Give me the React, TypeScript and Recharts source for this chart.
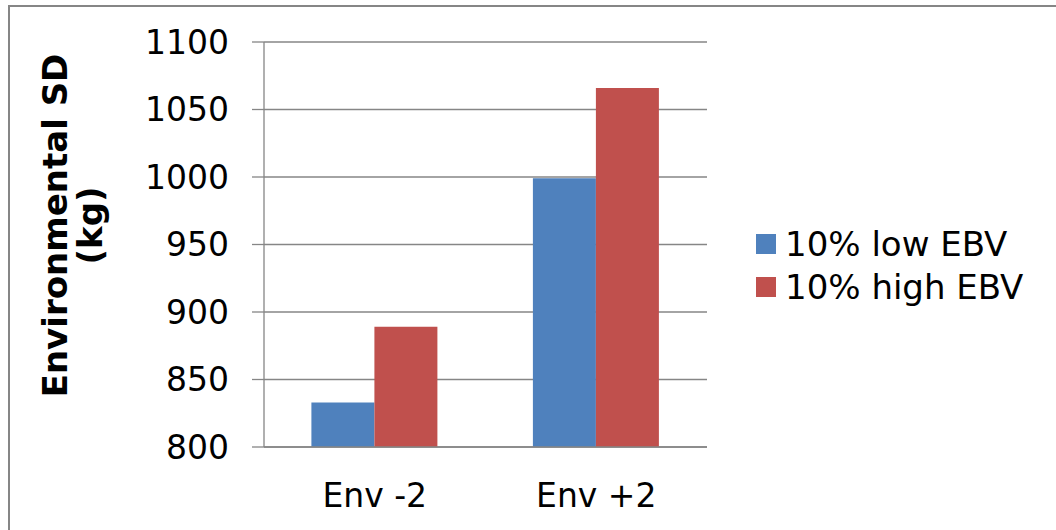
import { BarChart, Bar, XAxis, YAxis, CartesianGrid, Legend } from 'recharts';

// ── Data ──────────────────────────────────────────────────────────────────────

const categories = ['Env -2', 'Env +2'];
const lowEbv = [833, 999];
const highEbv = [889, 1066];
const seriesNames = ['10% low EBV', '10% high EBV'];
const seriesColors = ['#4F81BD', '#C0504D'];
const yTicks = [800, 850, 900, 950, 1000, 1050, 1100];
const edgeTicks = [0, 1, 2];
const yLabelLines = ['Environmental SD', '(kg)'];

const data = categories.map((cat, i) => ({ cat, low: lowEbv[i], high: highEbv[i] }));

const AXIS = '#868686';
const FONT = '"DejaVu Sans", Verdana, sans-serif';

// ── Pieces ────────────────────────────────────────────────────────────────────

function YLabel({ viewBox }: any) {
  const cx = viewBox.x + 67;
  const cy = viewBox.y + viewBox.height / 2 - 19;
  return (
    <text
      transform={`rotate(-90, ${cx}, ${cy})`}
      x={cx}
      y={cy}
      textAnchor="middle"
      fontSize={34}
      fontWeight="bold"
      fill="#000"
    >
      {yLabelLines.map((line, i) => (
        <tspan key={line} x={cx} dy={i === 0 ? 0 : 35}>{line}</tspan>
      ))}
    </text>
  );
}

function LegendBox({ payload }: any) {
  // keep the series order (the legend would otherwise sort by name)
  const items = [...(payload || [])].sort(
    (a: any, b: any) => seriesNames.indexOf(a.value) - seriesNames.indexOf(b.value),
  );
  return (
    <div style={{ width: 300, paddingLeft: 49, boxSizing: 'border-box', fontSize: 34, color: '#000' }}>
      {items.map((entry: any) => (
        <div key={entry.value} style={{ display: 'flex', alignItems: 'center', height: 43 }}>
          <span style={{ width: 20, height: 20, background: entry.color, marginRight: 9, flex: 'none' }} />
          <span style={{ whiteSpace: 'nowrap' }}>{entry.value}</span>
        </div>
      ))}
    </div>
  );
}

// ── App ───────────────────────────────────────────────────────────────────────

export default function App() {
  return (
    <div
      style={{
        position: 'absolute',
        left: 0,
        top: 0,
        width: 1056,
        height: 530,
        overflow: 'hidden',
        background: '#fff',
        fontFamily: FONT,
      }}
    >
      <div
        style={{
          position: 'absolute',
          left: 8,
          top: 5,
          width: 1100,
          height: 600,
          border: `2px solid ${AXIS}`,
        }}
      />
      <BarChart
        width={1056}
        height={530}
        data={data}
        margin={{ top: 42, right: 49, bottom: 23, left: 0 }}
        barGap={0}
        barCategoryGap="21.4%"
        style={{ position: 'absolute', left: 0, top: 0 }}
      >
        <CartesianGrid xAxisId="cat" vertical={false} stroke={AXIS} strokeWidth={1.3} />
        <XAxis
          xAxisId="edge"
          type="number"
          domain={[0, 2]}
          ticks={edgeTicks}
          tick={false}
          tickSize={12}
          tickLine={{ stroke: AXIS, strokeWidth: 1.3 }}
          axisLine={false}
          height={0}
        />
        <XAxis
          xAxisId="cat"
          dataKey="cat"
          tickLine={false}
          tickSize={0}
          tickMargin={37}
          axisLine={{ stroke: AXIS, strokeWidth: 1.3 }}
          tick={{ fontSize: 33, fill: '#000' }}
          height={60}
        />
        <YAxis
          domain={[800, 1100]}
          ticks={yTicks}
          width={264}
          tickSize={12}
          tickMargin={23}
          tickLine={{ stroke: AXIS, strokeWidth: 1.3 }}
          axisLine={{ stroke: AXIS, strokeWidth: 1.3 }}
          tick={{ fontSize: 33, fill: '#000' }}
          label={<YLabel />}
        />
        <Legend
          layout="vertical"
          align="right"
          verticalAlign="middle"
          wrapperStyle={{ top: 222 }}
          content={<LegendBox />}
        />
        <Bar xAxisId="cat" dataKey="low" name={seriesNames[0]} fill={seriesColors[0]} isAnimationActive={false} />
        <Bar xAxisId="cat" dataKey="high" name={seriesNames[1]} fill={seriesColors[1]} isAnimationActive={false} />
      </BarChart>
    </div>
  );
}
